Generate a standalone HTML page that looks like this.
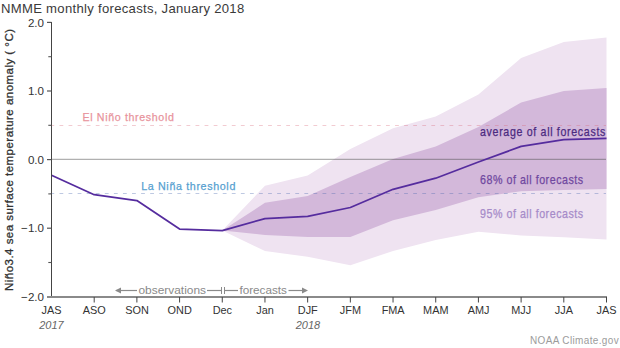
<!DOCTYPE html>
<html><head><meta charset="utf-8"><style>
html,body{margin:0;padding:0;background:#fff;width:620px;height:348px;overflow:hidden}
svg{display:block}
text{font-family:"Liberation Sans", sans-serif}
.m{stroke-width:0.25px}
.m2{stroke-width:0.3px}
</style></head><body>
<svg width="620" height="348" viewBox="0 0 620 348">
<rect x="0" y="0" width="620" height="348" fill="#ffffff"/>
<polygon points="222.27,230.60 264.96,185.80 307.65,175.60 350.35,149.00 393.04,128.30 435.73,116.50 478.42,94.50 521.12,58.00 563.81,42.00 606.50,37.50 606.50,239.50 563.81,237.20 521.12,235.50 478.42,231.80 435.73,240.00 393.04,251.00 350.35,265.20 307.65,256.80 264.96,251.00 222.27,230.60" fill="#efe3f1"/>
<polygon points="222.27,230.60 264.96,202.80 307.65,196.00 350.35,177.00 393.04,159.00 435.73,146.50 478.42,127.00 521.12,102.50 563.81,91.00 606.50,88.00 606.50,189.00 563.81,190.00 521.12,191.20 478.42,197.20 435.73,210.00 393.04,220.30 350.35,237.00 307.65,237.00 264.96,235.00 222.27,230.60" fill="#d3b8da"/>
<line x1="50.4" y1="125.5" x2="606" y2="125.5" stroke="#d86878" stroke-opacity="0.34" stroke-width="1" stroke-dasharray="3.8 5.27"/>
<line x1="50.4" y1="193.5" x2="606" y2="193.5" stroke="#4a68b0" stroke-opacity="0.36" stroke-width="1" stroke-dasharray="3.8 5.27"/>
<line x1="51" y1="159.4" x2="606" y2="159.4" stroke="#505050" stroke-opacity="0.45" stroke-width="1.1"/>
<polyline points="51.50,175.30 94.19,194.70 136.88,200.60 179.58,229.10 222.27,230.60 264.96,218.60 307.65,216.40 350.35,207.50 393.04,189.30 435.73,178.20 478.42,162.00 521.12,146.40 563.81,139.70 606.50,138.40" fill="none" stroke="#552c9e" stroke-width="1.75" stroke-linejoin="round"/>
<line x1="51.5" y1="22" x2="51.5" y2="297" stroke="#444" stroke-width="1"/>
<line x1="47" y1="297" x2="607" y2="297" stroke="#8a8a8a" stroke-width="2"/>
<line x1="47" y1="22.4" x2="51.5" y2="22.4" stroke="#555" stroke-width="1.2"/>
<line x1="47" y1="91.0" x2="51.5" y2="91.0" stroke="#555" stroke-width="1.2"/>
<line x1="47" y1="159.6" x2="51.5" y2="159.6" stroke="#555" stroke-width="1.2"/>
<line x1="47" y1="228.2" x2="51.5" y2="228.2" stroke="#555" stroke-width="1.2"/>
<line x1="48.3" y1="56.7" x2="51.5" y2="56.7" stroke="#555" stroke-width="1.1"/>
<line x1="48.3" y1="125.3" x2="51.5" y2="125.3" stroke="#555" stroke-width="1.1"/>
<line x1="48.3" y1="193.9" x2="51.5" y2="193.9" stroke="#555" stroke-width="1.1"/>
<line x1="48.3" y1="262.5" x2="51.5" y2="262.5" stroke="#555" stroke-width="1.1"/>
<line x1="94.19" y1="297" x2="94.19" y2="302.5" stroke="#444" stroke-width="1"/>
<line x1="136.88" y1="297" x2="136.88" y2="302.5" stroke="#444" stroke-width="1"/>
<line x1="179.58" y1="297" x2="179.58" y2="302.5" stroke="#444" stroke-width="1"/>
<line x1="222.27" y1="297" x2="222.27" y2="302.5" stroke="#444" stroke-width="1"/>
<line x1="264.96" y1="297" x2="264.96" y2="302.5" stroke="#444" stroke-width="1"/>
<line x1="307.65" y1="297" x2="307.65" y2="302.5" stroke="#444" stroke-width="1"/>
<line x1="350.35" y1="297" x2="350.35" y2="302.5" stroke="#444" stroke-width="1"/>
<line x1="393.04" y1="297" x2="393.04" y2="302.5" stroke="#444" stroke-width="1"/>
<line x1="435.73" y1="297" x2="435.73" y2="302.5" stroke="#444" stroke-width="1"/>
<line x1="478.42" y1="297" x2="478.42" y2="302.5" stroke="#444" stroke-width="1"/>
<line x1="521.12" y1="297" x2="521.12" y2="302.5" stroke="#444" stroke-width="1"/>
<line x1="563.81" y1="297" x2="563.81" y2="302.5" stroke="#444" stroke-width="1"/>
<line x1="606.50" y1="297" x2="606.50" y2="302.5" stroke="#444" stroke-width="1"/>
<text x="44" y="26.50" text-anchor="end" font-size="11.6" fill="#333">2.0</text>
<text x="44" y="95.10" text-anchor="end" font-size="11.6" fill="#333">1.0</text>
<text x="44" y="163.70" text-anchor="end" font-size="11.6" fill="#333">0.0</text>
<text x="44" y="300.90" text-anchor="end" font-size="11.6" fill="#333">−2.0</text>
<text x="44" y="232.30" text-anchor="end" font-size="11.6" fill="#333">−1.0</text>
<text x="51.60" y="313.9" text-anchor="middle" font-size="10.9" fill="#333">JAS</text>
<text x="94.29" y="313.9" text-anchor="middle" font-size="10.9" fill="#333">ASO</text>
<text x="136.98" y="313.9" text-anchor="middle" font-size="10.9" fill="#333">SON</text>
<text x="179.68" y="313.9" text-anchor="middle" font-size="10.9" fill="#333">OND</text>
<text x="222.37" y="313.9" text-anchor="middle" font-size="10.9" fill="#333">Dec</text>
<text x="265.06" y="313.9" text-anchor="middle" font-size="10.9" fill="#333">Jan</text>
<text x="307.75" y="313.9" text-anchor="middle" font-size="10.9" fill="#333">DJF</text>
<text x="350.45" y="313.9" text-anchor="middle" font-size="10.9" fill="#333">JFM</text>
<text x="393.14" y="313.9" text-anchor="middle" font-size="10.9" fill="#333">FMA</text>
<text x="435.83" y="313.9" text-anchor="middle" font-size="10.9" fill="#333">MAM</text>
<text x="478.52" y="313.9" text-anchor="middle" font-size="10.9" fill="#333">AMJ</text>
<text x="521.22" y="313.9" text-anchor="middle" font-size="10.9" fill="#333">MJJ</text>
<text x="563.91" y="313.9" text-anchor="middle" font-size="10.9" fill="#333">JJA</text>
<text x="606.60" y="313.9" text-anchor="middle" font-size="10.9" fill="#333">JAS</text>
<text x="51.5" y="328.7" text-anchor="middle" font-size="11" font-style="italic" fill="#666">2017</text>
<text x="308" y="328.7" text-anchor="middle" font-size="11" font-style="italic" fill="#666">2018</text>
<text x="138.5" y="293.5" font-size="11" fill="#8a8a8a" textLength="67.5" lengthAdjust="spacingAndGlyphs">observations</text>
<text x="239.4" y="293.5" font-size="11" fill="#8a8a8a" textLength="47.6" lengthAdjust="spacingAndGlyphs">forecasts</text>
<line x1="116" y1="290.5" x2="137" y2="290.5" stroke="#8a8a8a" stroke-width="1.2"/>
<path d="M115,290.5 L121,287.5 L121,293.5 Z" fill="#8a8a8a"/>
<line x1="207" y1="290.5" x2="221" y2="290.5" stroke="#8a8a8a" stroke-width="1.2"/>
<line x1="221.5" y1="287" x2="221.5" y2="294" stroke="#8a8a8a" stroke-width="1"/>
<line x1="224.5" y1="287" x2="224.5" y2="294" stroke="#8a8a8a" stroke-width="1"/>
<line x1="224.5" y1="290.5" x2="238" y2="290.5" stroke="#8a8a8a" stroke-width="1.2"/>
<line x1="288.5" y1="290.5" x2="303" y2="290.5" stroke="#8a8a8a" stroke-width="1.2"/>
<path d="M308,290.5 L302,287.5 L302,293.5 Z" fill="#8a8a8a"/>
<text class="m" stroke="#e8939c" x="82.5" y="121.1" font-size="11.6" letter-spacing="0.7" fill="#e8939c" textLength="92" lengthAdjust="spacingAndGlyphs">El Niño threshold</text>
<text class="m" stroke="#55a0d0" x="141.2" y="190.1" font-size="11.8" letter-spacing="0.7" fill="#55a0d0" textLength="94.8" lengthAdjust="spacingAndGlyphs">La Niña threshold</text>
<text class="m" stroke="#4b2a80" x="480" y="135.8" font-size="12.4" letter-spacing="0.8" fill="#4b2a80" textLength="126" lengthAdjust="spacingAndGlyphs">average of all forecasts</text>
<text class="m" stroke="#7048a0" x="480" y="183.6" font-size="12.2" letter-spacing="0.6" fill="#7048a0" textLength="103.7" lengthAdjust="spacingAndGlyphs">68% of all forecasts</text>
<text class="m" stroke="#a68bc9" x="480" y="218.2" font-size="12.2" letter-spacing="0.6" fill="#a68bc9" textLength="103.7" lengthAdjust="spacingAndGlyphs">95% of all forecasts</text>
<text x="1" y="12.8" font-size="13.5" fill="#3a3a3a" letter-spacing="0.3" textLength="243.5" lengthAdjust="spacingAndGlyphs">NMME monthly forecasts, January 2018</text>
<text transform="translate(13.4,291) rotate(-90)" x="0" y="0" class="m2" stroke="#333" font-size="11.8" fill="#333" letter-spacing="0.5" textLength="262.5" lengthAdjust="spacingAndGlyphs">Niño3.4 sea surface temperature anomaly ( °C)</text>
<text x="530" y="343.8" font-size="11" fill="#9c9c9c" letter-spacing="0.4" textLength="89" lengthAdjust="spacingAndGlyphs">NOAA Climate.gov</text>
</svg>
</body></html>
